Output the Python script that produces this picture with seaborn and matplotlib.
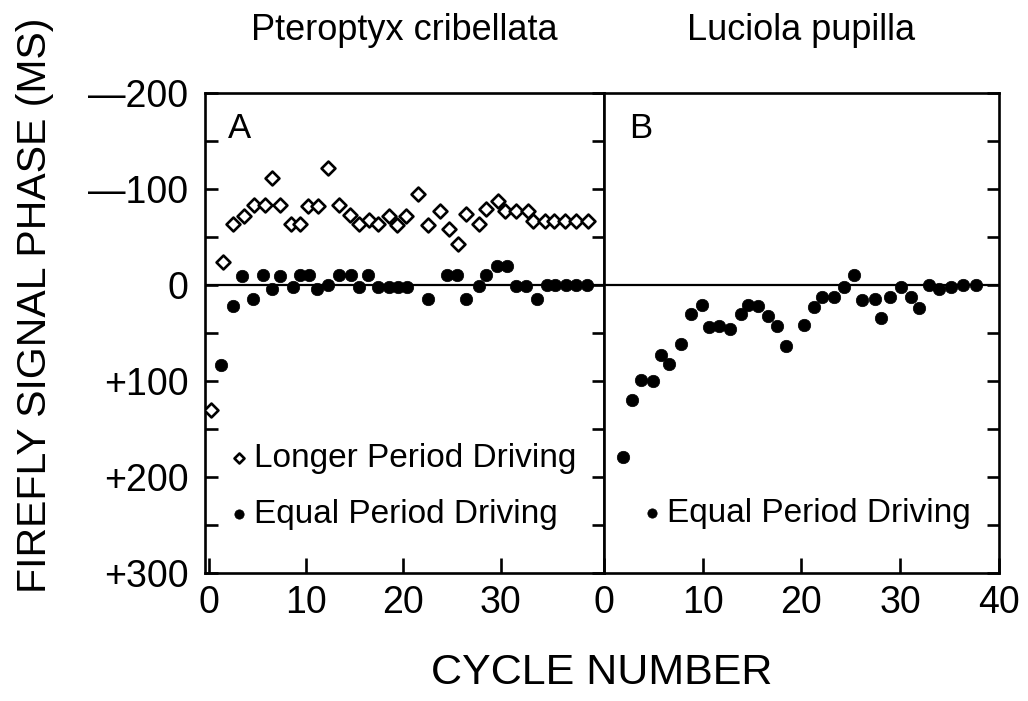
import matplotlib
matplotlib.use("Agg")
import matplotlib.pyplot as plt
import seaborn as sns
from matplotlib.ticker import MultipleLocator

# --- datos ---
# Pteroptyx cribellata, periodo de estimulo mas largo (rombos)
ciclo_largo = [0.2, 1.5, 2.5, 3.6, 4.6, 5.8, 6.5, 7.3, 8.4, 9.4, 10.2, 11.2, 12.2,
               13.4, 14.5, 15.4, 16.5, 17.4, 18.5, 19.3, 20.3, 21.5, 22.5, 23.8,
               24.7, 25.6, 26.4, 27.8, 28.5, 29.7, 30.4, 31.6, 32.8, 33.3, 34.5,
               35.5, 36.6, 37.7, 39.0]
fase_largo = [130, -24, -64, -72, -83, -83, -111, -83, -64, -64, -82, -82, -122,
              -83, -73, -64, -68, -64, -72, -63, -72, -95, -63, -77, -58, -43,
              -74, -64, -79, -87, -77, -77, -77, -67, -67, -67, -67, -67, -67]

# Pteroptyx cribellata, periodo igual (circulos)
ciclo_igual_a = [1.2, 2.5, 3.4, 4.5, 5.6, 6.5, 7.3, 8.6, 9.4, 10.3, 11.1, 12.2,
                 13.4, 14.6, 15.4, 16.4, 17.4, 18.5, 19.4, 20.4, 22.5, 24.5, 25.5,
                 26.4, 27.8, 28.5, 29.6, 30.6, 31.6, 32.6, 33.7, 34.7, 35.6, 36.7,
                 37.7, 38.9]
fase_igual_a = [83, 22, -9, 15, -10, 4, -9, 2, -10, -10, 4, 0, -10, -10, 2, -10,
                2, 2, 2, 2, 15, -10, -10, 15, 1, -10, -20, -20, 1, 1, 15, 0, 0, 0,
                0, 0]

# Luciola pupilla, periodo igual (circulos)
ciclo_igual_b = [1.9, 2.8, 3.8, 5.0, 5.8, 6.6, 7.8, 8.8, 9.9, 10.6, 11.7, 12.8,
                 13.9, 14.6, 15.6, 16.6, 17.5, 18.4, 20.3, 21.3, 22.1, 23.3, 24.3,
                 25.3, 26.1, 27.5, 28.1, 29.0, 30.1, 31.1, 31.9, 32.9, 33.9, 35.1,
                 36.4, 37.7]
fase_igual_b = [179, 120, 99, 100, 73, 82, 61, 30, 21, 44, 43, 46, 30, 21, 22, 32,
                43, 64, 42, 23, 13, 12, 2, -10, 16, 15, 34, 12, 2, 12, 24, 0, 4, 2,
                0, 0]

y_ticks = [-200, -100, 0, 100, 200, 300]
y_labels = ["\u2014200", "\u2014100", "0", "+100", "+200", "+300"]

sns.set_style("ticks", {"axes.edgecolor": "black", "xtick.color": "black",
                        "ytick.color": "black", "text.color": "black",
                        "axes.labelcolor": "black"})
plt.rcParams['font.family'] = ['Liberation Sans', 'DejaVu Sans']

fig = plt.figure(figsize=(10.28, 7.01), dpi=100)
ax1 = fig.add_axes([0.1994, 0.1826, 0.3881, 0.6847])
ax2 = fig.add_axes([0.5875, 0.1826, 0.3842, 0.6847])

for ax in (ax1, ax2):
    ax.axhline(0, color='black', lw=1.6, zorder=1)

sns.scatterplot(x=ciclo_largo, y=fase_largo, marker='D', s=50, color='white',
                edgecolor='black', linewidth=1.9, ax=ax1,
                label='Longer Period Driving', zorder=3)
sns.scatterplot(x=ciclo_igual_a, y=fase_igual_a, marker='o', s=80, color='black',
                edgecolor='black', linewidth=0.5, ax=ax1,
                label='Equal Period Driving', zorder=3)
sns.scatterplot(x=ciclo_igual_b, y=fase_igual_b, marker='o', s=80, color='black',
                edgecolor='black', linewidth=0.5, ax=ax2,
                label='Equal Period Driving', zorder=3)

ax1.set_xlim(-0.4, 40.6)
ax2.set_xlim(0, 40)
for ax in (ax1, ax2):
    ax.set_ylim(300, -200)
    ax.set_yticks(y_ticks)
    ax.yaxis.set_minor_locator(MultipleLocator(50))
    for s in ax.spines.values():
        s.set_visible(True)
        s.set_linewidth(1.9)
        s.set_color('black')
    ax.tick_params(axis='x', direction='in', length=11, width=1.9, top=False,
                   labelsize=27, pad=9, colors='black')
    ax.tick_params(axis='y', which='both', direction='in', length=9, width=1.9,
                   colors='black')
    ax.set_xlabel('')
    ax.set_ylabel('')

ax1.set_xticks([0, 10, 20, 30])
ax2.set_xticks([0, 10, 20, 30, 40])
ax1.set_yticklabels(y_labels)
ax1.tick_params(axis='y', which='both', left=True, right=True, labelsize=27, pad=12)
ax2.tick_params(axis='y', which='both', left=False, right=True, labelleft=False)

ax1.set_title('Pteroptyx cribellata', fontsize=26, pad=38, color='black')
ax2.set_title('Luciola pupilla', fontsize=26, pad=38, color='black')
ax1.text(0.058, 0.906, 'A', transform=ax1.transAxes, fontsize=25, va='baseline')
ax2.text(0.063, 0.906, 'B', transform=ax2.transAxes, fontsize=25, va='baseline')

ley1 = ax1.legend(loc='center left', bbox_to_anchor=(0.065, 0.180), frameon=False,
                  fontsize=24, handlelength=0.5, handletextpad=0.2, labelspacing=0.75,
                  borderpad=0, borderaxespad=0)
ley1.legend_handles[0].set_sizes([26])
ley1.legend_handles[1].set_sizes([45])
ley2 = ax2.legend(loc='center left', bbox_to_anchor=(0.101, 0.125), frameon=False,
                  fontsize=24, handlelength=0.5, handletextpad=0.2,
                  borderpad=0, borderaxespad=0)
ley2.legend_handles[0].set_sizes([45])

fig.text(0.5853, 0.040, 'CYCLE NUMBER', ha='center', va='center', fontsize=31)
fig.text(0.034, 0.565, 'FIREFLY SIGNAL PHASE (MS)', rotation=90, ha='center',
         va='center', fontsize=29.5)

fig.savefig('out.png', dpi=100)
plt.close(fig)
